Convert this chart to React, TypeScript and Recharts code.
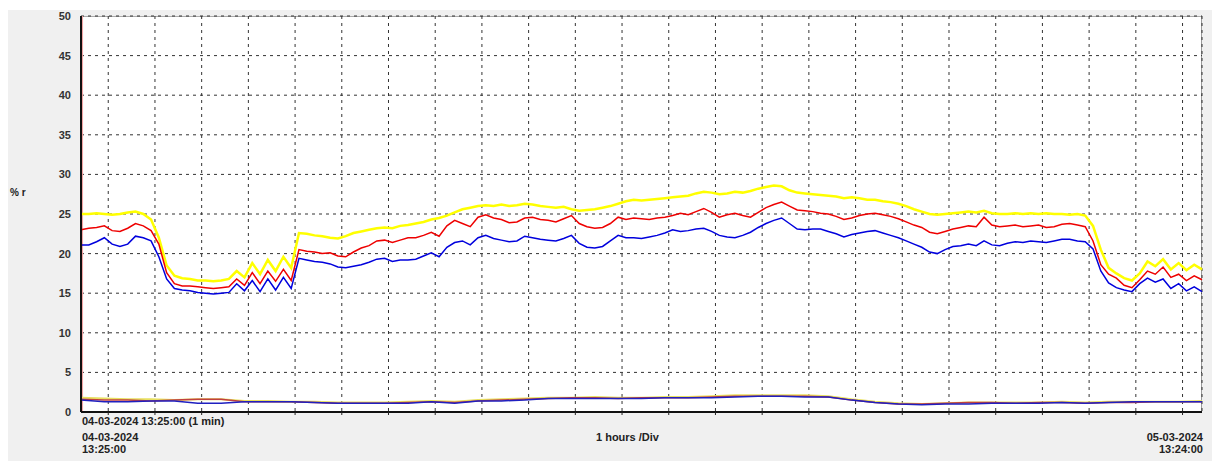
import React from "react";
import {
  LineChart,
  Line,
  XAxis,
  YAxis,
  CartesianGrid,
  ReferenceLine,
} from "recharts";

// one sample every 10 minutes, 04-03-2024 13:25 -> 05-03-2024 13:25
const minutes = [
  0, 10, 20, 30, 40, 50, 60, 70, 80, 90, 100, 110, 120, 130, 140, 150, 160, 170,
  180, 190, 200, 210, 220, 230, 240, 250, 260, 270, 280, 290, 300, 310, 320, 330,
  340, 350, 360, 370, 380, 390, 400, 410, 420, 430, 440, 450, 460, 470, 480, 490,
  500, 510, 520, 530, 540, 550, 560, 570, 580, 590, 600, 610, 620, 630, 640, 650,
  660, 670, 680, 690, 700, 710, 720, 730, 740, 750, 760, 770, 780, 790, 800, 810,
  820, 830, 840, 850, 860, 870, 880, 890, 900, 910, 920, 930, 940, 950, 960, 970,
  980, 990, 1000, 1010, 1020, 1030, 1040, 1050, 1060, 1070, 1080, 1090, 1100,
  1110, 1120, 1130, 1140, 1150, 1160, 1170, 1180, 1190, 1200, 1210, 1220, 1230,
  1240, 1250, 1260, 1270, 1280, 1290, 1300, 1310, 1320, 1330, 1340, 1350, 1360,
  1370, 1380, 1390, 1400, 1410, 1420, 1430, 1440,
];

const yellowPct = [
  25.0, 25.0, 25.1, 25.0, 24.9, 25.0, 25.2, 25.3, 25.0, 24.3, 22.0, 18.5, 17.2,
  16.9, 16.8, 16.6, 16.6, 16.5, 16.6, 16.8, 17.8, 17.0, 18.8, 17.4, 19.2, 17.8,
  19.6, 18.2, 22.6, 22.5, 22.3, 22.2, 22.0, 21.9, 22.2, 22.6, 22.8, 23.0, 23.2,
  23.3, 23.2, 23.5, 23.6, 23.8, 24.0, 24.3, 24.5, 24.8, 25.2, 25.6, 25.8, 26.0,
  26.1, 26.0, 26.2, 26.0, 26.1, 26.3, 26.2, 26.0, 25.9, 25.8, 25.9, 25.6, 25.4,
  25.5, 25.6, 25.8, 26.0, 26.3, 26.6, 26.8, 26.7, 26.8, 26.9, 27.0, 27.1, 27.2,
  27.3, 27.6, 27.8, 27.7, 27.5, 27.6, 27.8, 27.7, 27.9, 28.2, 28.4, 28.6, 28.5,
  28.0, 27.7, 27.6, 27.5, 27.4, 27.3, 27.2, 27.0, 27.1, 27.0, 26.8, 26.8, 26.6,
  26.5, 26.3, 26.0, 25.6, 25.3, 25.0, 24.9, 25.0, 25.1, 25.2, 25.3, 25.2, 25.4,
  25.1, 25.0, 25.0, 25.1, 25.0, 25.1, 25.0, 25.1, 25.0, 25.0, 24.9, 25.0, 24.8,
  23.5, 20.5, 18.2, 17.5, 16.9, 16.6, 17.5, 19.0, 18.4, 19.3, 18.0, 18.8, 17.9,
  18.6, 18.0,
];

const redPct = [
  23.0, 23.2, 23.3, 23.5, 22.9, 22.8, 23.2, 23.8, 23.5, 22.9, 21.2, 17.6, 16.2,
  15.9, 15.9, 15.8, 15.7, 15.6, 15.7, 15.8, 16.8, 16.0, 17.6, 16.2, 17.8, 16.5,
  18.0, 16.6, 20.5, 20.3, 20.2, 20.0, 20.1, 19.7, 19.6, 20.2, 20.7, 21.0, 21.6,
  21.7, 21.4, 21.7, 22.0, 22.0, 22.3, 22.7, 22.2, 23.5, 24.2, 23.8, 23.4, 24.6,
  24.9, 24.5, 24.3, 23.9, 24.0, 24.5, 24.6, 24.3, 24.2, 24.0, 24.4, 24.8, 23.8,
  23.4, 23.2, 23.3, 23.8, 24.6, 24.3, 24.5, 24.4, 24.3, 24.5, 24.6, 24.8, 25.1,
  24.9, 25.3, 25.7, 25.2, 24.6, 24.9, 25.1, 24.8, 24.6, 25.2, 25.8, 26.2, 26.5,
  26.0, 25.5, 25.4, 25.3, 25.1, 25.0, 24.7, 24.3, 24.5, 24.8, 25.0, 25.1, 24.9,
  24.7, 24.4, 24.0, 23.6, 23.3, 22.7, 22.5, 22.8, 23.1, 23.3, 23.5, 23.4, 24.6,
  23.6, 23.4, 23.5, 23.6, 23.4, 23.5, 23.6, 23.3, 23.4, 23.7, 23.8, 23.6, 23.4,
  21.6, 18.6, 17.4, 16.9, 16.0, 15.7, 16.7, 17.8, 17.4, 18.3, 17.0, 17.4, 16.6,
  17.2, 16.7,
];

const bluePct = [
  21.1, 21.1, 21.5, 22.0, 21.2, 20.9, 21.2, 22.2, 22.0, 21.6, 19.6, 16.8, 15.6,
  15.4, 15.3, 15.1, 15.0, 14.9, 15.0, 15.1, 16.2, 15.3, 16.6, 15.2, 16.8, 15.4,
  17.0, 15.6, 19.4, 19.2, 19.0, 18.9, 18.7, 18.3, 18.2, 18.4, 18.6, 18.9, 19.3,
  19.4, 19.0, 19.2, 19.2, 19.3, 19.7, 20.1, 19.6, 20.8, 21.4, 21.6, 21.1, 22.0,
  22.3, 21.9, 21.7, 21.5, 21.6, 22.2, 22.0, 21.8, 21.7, 21.6, 21.9, 22.3, 21.3,
  20.8, 20.7, 20.9, 21.6, 22.3, 22.0, 22.0, 21.9, 22.1, 22.3, 22.6, 23.0, 22.8,
  22.9, 23.1, 23.2, 22.8, 22.3, 22.1, 22.0, 22.3, 22.7, 23.3, 23.8, 24.2, 24.5,
  23.8, 23.1, 23.0, 23.1, 23.1, 22.8, 22.5, 22.1, 22.4, 22.6, 22.8, 22.9, 22.6,
  22.3, 22.0, 21.6, 21.2, 20.8, 20.2, 20.0, 20.5, 20.9, 21.0, 21.2, 21.0, 21.6,
  21.1, 21.0, 21.3, 21.5, 21.4, 21.6, 21.5, 21.4, 21.6, 21.8, 21.8, 21.6, 21.5,
  20.6, 17.8, 16.3, 15.7, 15.4, 15.2, 16.2, 16.9, 16.4, 16.8, 15.6, 16.2, 15.3,
  15.8, 15.2,
];

// low traces, one sample every 30 minutes
const lowMinutes = [
  0, 30, 60, 90, 120, 150, 180, 210, 240, 270, 300, 330, 360, 390, 420, 450, 480,
  510, 540, 570, 600, 630, 660, 690, 720, 750, 780, 810, 840, 870, 900, 930, 960,
  990, 1020, 1050, 1080, 1110, 1140, 1170, 1200, 1230, 1260, 1290, 1320, 1350,
  1380, 1410, 1440,
];
const lowYellow = [
  1.8, 1.7, 1.6, 1.6, 1.5, 1.6, 1.6, 1.4, 1.4, 1.3, 1.3, 1.2, 1.2, 1.2, 1.3, 1.4,
  1.3, 1.5, 1.6, 1.7, 1.8, 1.8, 1.9, 1.8, 1.8, 1.9, 1.9, 2.0, 2.1, 2.1, 2.1, 2.1,
  2.0, 1.6, 1.3, 1.1, 1.0, 1.1, 1.2, 1.2, 1.2, 1.2, 1.3, 1.2, 1.3, 1.3, 1.3, 1.3,
  1.4,
];
const lowRed = [
  1.6, 1.5, 1.5, 1.4, 1.5, 1.6, 1.6, 1.3, 1.3, 1.3, 1.2, 1.1, 1.1, 1.1, 1.2, 1.3,
  1.2, 1.4, 1.5, 1.6, 1.7, 1.8, 1.8, 1.7, 1.8, 1.8, 1.8, 1.9, 2.0, 2.0, 2.0, 2.0,
  1.9, 1.5, 1.2, 1.0, 1.0, 1.1, 1.2, 1.2, 1.1, 1.2, 1.2, 1.1, 1.2, 1.2, 1.3, 1.3,
  1.3,
];
const lowBlue = [
  1.5, 1.3, 1.3, 1.4, 1.4, 1.1, 1.1, 1.3, 1.3, 1.3, 1.2, 1.1, 1.1, 1.1, 1.1, 1.3,
  1.1, 1.4, 1.4, 1.5, 1.7, 1.7, 1.7, 1.7, 1.7, 1.8, 1.8, 1.8, 1.9, 2.0, 2.0, 1.9,
  1.9, 1.5, 1.2, 1.0, 0.9, 1.0, 1.0, 1.1, 1.1, 1.1, 1.2, 1.1, 1.2, 1.3, 1.3, 1.3,
  1.3,
];

// full hours (14:00 ... 13:00) as minutes after 13:25
const hourTicks = [
  35, 95, 155, 215, 275, 335, 395, 455, 515, 575, 635, 695, 755, 815, 875, 935,
  995, 1055, 1115, 1175, 1235, 1295, 1355, 1415,
];
const yTicks = [0, 5, 10, 15, 20, 25, 30, 35, 40, 45, 50];

const rows = minutes.map((t, i) => ({
  t,
  yellow: yellowPct[i],
  red: redPct[i],
  blue: bluePct[i],
}));
const lowRows = lowMinutes.map((t, i) => ({
  t,
  yellow: lowYellow[i],
  red: lowRed[i],
  blue: lowBlue[i],
}));

const font = '"Liberation Sans", Arial, sans-serif';
const txt: React.CSSProperties = {
  position: "absolute",
  fontFamily: font,
  fontSize: 11,
  fontWeight: "bold",
  color: "#222",
  lineHeight: "12px",
  whiteSpace: "nowrap",
};

// hour ticks carry no label, they only place the grid
const NoLabel = () => <g />;

export default function App() {
  return (
    <div
      style={{
        position: "absolute",
        left: 0,
        top: 0,
        width: 1212,
        height: 461,
        background: "#fff",
        overflow: "hidden",
      }}
    >
      <div
        style={{
          position: "absolute",
          left: 8,
          top: 10,
          right: 0,
          bottom: 0,
          background: "#f0f0f0",
        }}
      />
      <div
        style={{
          position: "absolute",
          left: 81,
          top: 16,
          width: 1120,
          height: 396,
          background: "#fff",
          borderTop: "1px solid #aaa",
          borderRight: "1px solid #999",
        }}
      />
      <div style={{ position: "absolute", left: 0, top: 0 }}>
        <LineChart
          width={1212}
          height={461}
          data={rows}
          margin={{ top: 16, right: 10, bottom: 19, left: 0 }}
        >
          <CartesianGrid stroke="#333" strokeDasharray="3 4" />
          <XAxis
            dataKey="t"
            type="number"
            domain={[0, 1440]}
            ticks={hourTicks}
            interval={0}
            tick={NoLabel}
            tickLine={{ stroke: "#222" }}
            tickSize={3}
            height={30}
            axisLine={{ stroke: "#111", strokeWidth: 2 }}
          />
          <YAxis
            type="number"
            domain={[0, 50]}
            ticks={yTicks}
            width={81}
            tickLine={false}
            tickMargin={4}
            interval={0}
            axisLine={{ stroke: "#111", strokeWidth: 2 }}
            tick={{ fontSize: 11, fontWeight: "bold", fill: "#333", fontFamily: font }}
          />
          <ReferenceLine x={2} stroke="#f2a0a0" strokeWidth={1} />
          <Line
            dataKey="yellow"
            stroke="#ffff00"
            strokeWidth={2.5}
            dot={false}
            isAnimationActive={false}
          />
          <Line
            dataKey="red"
            stroke="#ee0000"
            strokeWidth={1.5}
            dot={false}
            isAnimationActive={false}
          />
          <Line
            dataKey="blue"
            stroke="#0000dd"
            strokeWidth={1.5}
            dot={false}
            isAnimationActive={false}
          />
          <Line
            data={lowRows}
            dataKey="yellow"
            stroke="#e8e060"
            strokeWidth={2}
            dot={false}
            isAnimationActive={false}
          />
          <Line
            data={lowRows}
            dataKey="red"
            stroke="#c04040"
            strokeWidth={1.5}
            dot={false}
            isAnimationActive={false}
          />
          <Line
            data={lowRows}
            dataKey="blue"
            stroke="#2020c0"
            strokeWidth={1.5}
            dot={false}
            isAnimationActive={false}
          />
        </LineChart>
      </div>
      <div style={{ ...txt, left: 10, top: 187, fontSize: 10 }}>% r</div>
      <div style={{ ...txt, left: 82, top: 415 }}>04-03-2024 13:25:00 (1 min)</div>
      <div style={{ ...txt, left: 82, top: 431 }}>
        04-03-2024
        <br />
        13:25:00
      </div>
      <div style={{ ...txt, left: 596, top: 431 }}>1 hours /Div</div>
      <div style={{ ...txt, right: 9, top: 431, textAlign: "right" }}>
        05-03-2024
        <br />
        13:24:00
      </div>
    </div>
  );
}
